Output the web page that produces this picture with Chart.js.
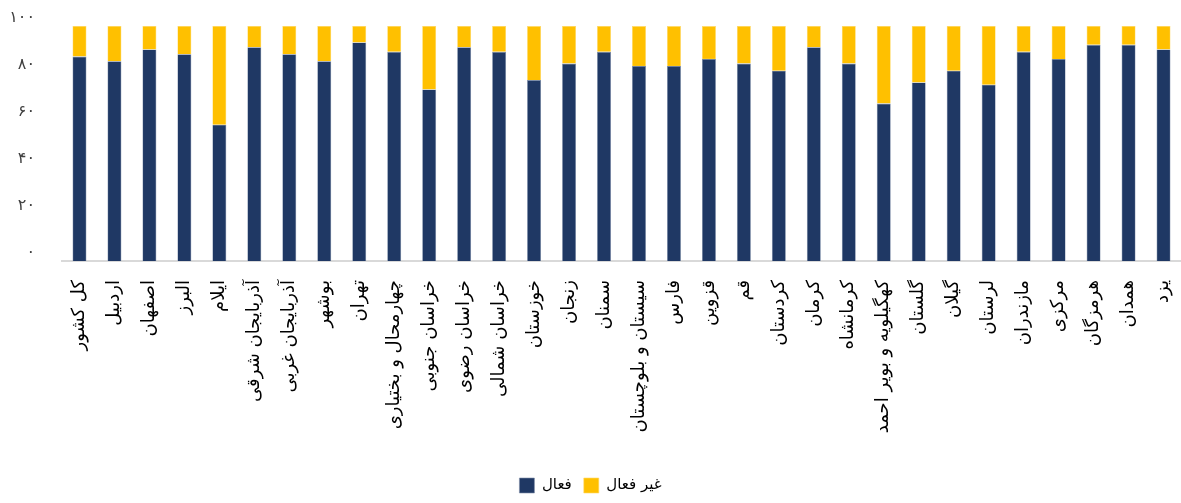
<!DOCTYPE html>
<html>
<head>
<meta charset="utf-8">
<script src="https://cdn.jsdelivr.net/npm/chart.js@4/dist/chart.umd.min.js"></script>
<style>
html,body{margin:0;padding:0;background:#fff;}
#wrap{width:1181px;height:503px;}
</style>
</head>
<body>
<div id="wrap"><canvas id="c" width="1181" height="503"></canvas></div>
<script>
const categories = ["کل کشور","اردبیل","اصفهان","البرز","ایلام","آذربایجان شرقی","آذربایجان غربی","بوشهر","تهران","چهارمحال و بختیاری","خراسان جنوبی","خراسان رضوی","خراسان شمالی","خوزستان","زنجان","سمنان","سیستان و بلوچستان","فارس","قزوین","قم","کردستان","کرمان","کرمانشاه","کهگیلویه و بویر احمد","گلستان","گیلان","لرستان","مازندران","مرکزی","هرمزگان","همدان","یزد"];
const activeValues = [87,85,90,88,58,91,88,85,93,89,73,91,89,77,84,89,83,83,86,84,81,91,84,67,76,81,75,89,86,92,92,90];
const inactiveValues = [13,15,10,12,42,9,12,15,7,11,27,9,11,23,16,11,17,17,14,16,19,9,16,33,24,19,25,11,14,8,8,10];
const seriesNames = ["فعال","غیر فعال"];
const yTickValues = [0,20,40,60,80,100];
const yTickLabels = ["۰","۲۰","۴۰","۶۰","۸۰","۱۰۰"];

const FONT = "'DejaVu Sans', sans-serif";

new Chart(document.getElementById('c'), {
  type: 'bar',
  data: {
    labels: categories,
    datasets: [
      {label: seriesNames[0], data: activeValues, backgroundColor: '#1f3864', borderColor: '#7f8fa9', borderWidth: 0.6, barPercentage: 0.4, categoryPercentage: 1},
      {label: seriesNames[1], data: inactiveValues, backgroundColor: '#ffc000', borderColor: '#ffd966', borderWidth: 0.6, barPercentage: 0.4, categoryPercentage: 1}
    ]
  },
  options: {
    responsive: false,
    animation: false,
    layout: {padding: {left: 0, right: 0, top: 26, bottom: 0}},
    plugins: {
      tooltip: {enabled: false},
      legend: {
        position: 'bottom',
        labels: {
          font: {family: FONT, size: 15},
          color: '#000',
          boxWidth: 15, boxHeight: 15,
          padding: 12
        }
      }
    },
    scales: {
      x: {
        stacked: true,
        grid: {display: false, drawTicks: false},
        border: {display: true, color: '#d9d9d9', width: 2},
        afterFit: (s) => { s.paddingLeft = 0; s.paddingRight = 0; s.height = 205; },
        ticks: {
          autoSkip: false,
          maxRotation: 90, minRotation: 90,
          padding: 19,
          color: '#000',
          font: {family: FONT, size: 18}
        }
      },
      y: {
        stacked: true,
        min: 0, max: 100,
        afterBuildTicks: (axis) => { axis.ticks = yTickValues.map(v => ({value: v})); },
        afterFit: (s) => { s.paddingTop = 0; s.paddingBottom = 0; s.width = 62; },
        grid: {display: false, drawTicks: false},
        border: {display: false},
        ticks: {
          padding: 27,
          color: '#404040',
          font: {family: FONT, size: 16, lineHeight: 1},
          callback: (v) => { const i = yTickValues.indexOf(v); return i >= 0 ? [yTickLabels[i], ''] : ''; }
        }
      }
    }
  }
});
</script>
</body>
</html>
